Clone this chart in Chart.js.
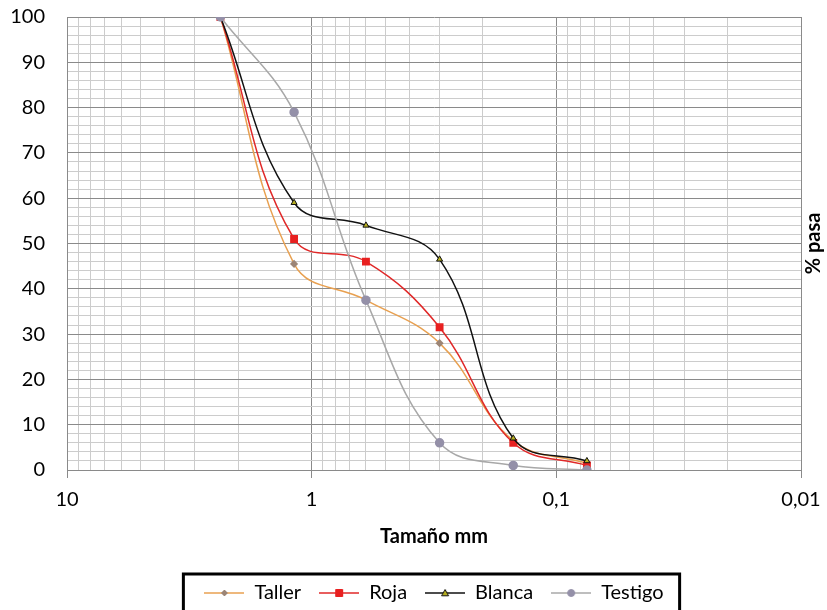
<!DOCTYPE html>
<html>
<head>
<meta charset="utf-8">
<script src="https://cdn.jsdelivr.net/npm/chart.js@4"></script>
<style>
body { margin: 0; background: #fff; }
#wrap { width: 827px; height: 610px; }
</style>
</head>
<body>
<div id="wrap"><canvas id="myChart"></canvas></div>
<script>
// sieve sizes (mm) and % passing per sample
var sizes   = [2.36, 1.18, 0.6, 0.3, 0.15, 0.075];
var taller  = [100, 45.5, 37.5, 28, 6.5, 1.5];
var roja    = [100, 51, 46, 31.5, 6, 1];
var blanca  = [100, 59, 54, 46.5, 7, 2];
var testigo = [100, 79, 37.5, 6, 1, 0];

var seriesNames = ["Taller", "Roja", "Blanca", "Testigo"];
var xDecades    = [10, 1, 0.1, 0.01];
var xTickLabels = ["10", "1", "0,1", "0,01"];

var FONT = "Lato, 'Open Sans', sans-serif";

function pts(vals) {
    return sizes.map(function (s, i) { return { x: s, y: vals[i] }; });
}

function isDecade(v) {
    var l = Math.log10(v);
    return Math.abs(l - Math.round(l)) < 1e-9;
}

// little line + marker pictures for the legend
function legendIcon(lineColor, style, fill, stroke, r) {
    var c = document.createElement("canvas");
    c.width = 40; c.height = 14;
    var g = c.getContext("2d");
    g.strokeStyle = lineColor; g.lineWidth = 1.5;
    g.beginPath(); g.moveTo(0, 7); g.lineTo(40, 7); g.stroke();
    g.fillStyle = fill; g.strokeStyle = stroke; g.lineWidth = 1;
    g.beginPath();
    if (style === "rect") { g.rect(20 - r, 7 - r, 2 * r, 2 * r); }
    else if (style === "rectRot") { g.moveTo(20, 7 - r); g.lineTo(20 + r, 7); g.lineTo(20, 7 + r); g.lineTo(20 - r, 7); g.closePath(); }
    else if (style === "triangle") { g.moveTo(20, 7 - r); g.lineTo(20 + r, 7 + r * 0.8); g.lineTo(20 - r, 7 + r * 0.8); g.closePath(); }
    else { g.arc(20, 7, r, 0, Math.PI * 2); }
    g.fill(); g.stroke();
    return c;
}

var icons = [
    legendIcon("#e8a050", "rectRot", "#9c8576", "#9c8576", 3),
    legendIcon("#e02828", "rect", "#e82020", "#e82020", 3.5),
    legendIcon("#111111", "triangle", "#b8b020", "#111111", 3.5),
    legendIcon("#a8a8a8", "circle", "#9490a8", "#9490a8", 3.5)
];

var legendBorder = {
    id: "legendBorder",
    afterDraw: function (chart) {
        var hb = chart.legend.legendHitBoxes;
        if (!hb || !hb.length) return;
        var left = Math.min.apply(null, hb.map(function (h) { return h.left; })) - 21;
        var right = Math.max.apply(null, hb.map(function (h) { return h.left + h.width; })) + 16;
        var cy = hb[0].top + hb[0].height / 2;
        var g = chart.ctx;
        g.save();
        g.strokeStyle = "#000"; g.lineWidth = 3;
        g.strokeRect(left, cy - 19, right - left, 60);
        // right-hand axis title, reading upward
        g.translate(814, (chart.chartArea.top + chart.chartArea.bottom) / 2);
        g.rotate(-Math.PI / 2);
        g.fillStyle = "#000";
        g.font = "bold 20px " + FONT;
        g.textAlign = "center"; g.textBaseline = "middle";
        g.fillText("% pasa", 0, 0);
        g.restore();
    }
};

var ctx = document.getElementById("myChart").getContext("2d");
var myChart = new Chart(ctx, {
    type: "line",
    data: {
        datasets: [
            {
                label: seriesNames[0], data: pts(taller), order: 3,
                borderColor: "#e8a050", borderWidth: 1.5,
                pointStyle: "rectRot", pointRadius: 3,
                pointBackgroundColor: "#9c8576", pointBorderColor: "#9c8576"
            },
            {
                label: seriesNames[1], data: pts(roja), order: 2,
                borderColor: "#e02828", borderWidth: 1.5,
                pointStyle: "rect", pointRadius: 4.5,
                pointBackgroundColor: "#e82020", pointBorderColor: "#e82020"
            },
            {
                label: seriesNames[2], data: pts(blanca), order: 1,
                borderColor: "#111111", borderWidth: 1.5,
                pointStyle: "triangle", pointRadius: 3.5,
                pointBackgroundColor: "#b8b020", pointBorderColor: "#111111", pointBorderWidth: 1
            },
            {
                label: seriesNames[3], data: pts(testigo), order: 0,
                borderColor: "#a8a8a8", borderWidth: 1.5,
                pointStyle: "circle", pointRadius: 4,
                pointBackgroundColor: "#9490a8", pointBorderColor: "#9490a8"
            }
        ]
    },
    options: {
        responsive: true,
        maintainAspectRatio: false,
        animation: false,
        tension: 0.4,
        layout: { padding: { top: 17, left: 12, right: 26, bottom: -3 } },
        scales: {
            x: {
                type: "logarithmic",
                reverse: true,
                min: 0.01,
                max: 10,
                afterBuildTicks: function (scale) {
                    var t = [];
                    [0.01, 0.1, 1].forEach(function (d) {
                        for (var k = 1; k < 10; k++) t.push({ value: +(k * d).toPrecision(6) });
                    });
                    t.push({ value: 10 });
                    scale.ticks = t;
                },
                ticks: {
                    autoSkip: false,
                    maxRotation: 0,
                    padding: 10,
                    color: "#000",
                    font: { family: FONT, size: 20 },
                    callback: function (v) {
                        var i = xDecades.findIndex(function (d) { return Math.abs(d - v) < d * 1e-6; });
                        return i >= 0 ? xTickLabels[i] : "";
                    }
                },
                grid: {
                    color: function (c) { return c.tick && isDecade(c.tick.value) ? "#8a8a8a" : "#cccccc"; },
                    tickColor: function (c) { return c.tick && isDecade(c.tick.value) ? "#8a8a8a" : "rgba(0,0,0,0)"; },
                    tickLength: 8,
                    lineWidth: 1
                },
                border: { color: "#8a8a8a" },
                title: {
                    display: true,
                    text: "Tamaño mm",
                    color: "#000",
                    font: { family: FONT, size: 20, weight: "bold" },
                    padding: { top: 3, bottom: 16 }
                }
            },
            y: {
                min: 0,
                max: 100,
                afterFit: function (scale) {
                    scale.width = 55;
                    scale.paddingTop = 12;
                    scale.paddingBottom = 12;
                },
                ticks: {
                    stepSize: 2,
                    autoSkip: false,
                    padding: 22,
                    color: "#000",
                    font: { family: FONT, size: 20 },
                    callback: function (v) { return v % 10 === 0 ? v : ""; }
                },
                grid: {
                    drawTicks: false,
                    color: function (c) { return c.tick && c.tick.value % 10 === 0 ? "#8a8a8a" : "#cccccc"; }
                },
                border: { color: "#8a8a8a" }
            }
        },
        plugins: {
            tooltip: { enabled: false },
            legend: {
                position: "bottom",
                fullSize: false,
                labels: {
                    usePointStyle: true,
                    pointStyleWidth: 40,
                    padding: 18,
                    color: "#000",
                    font: { family: FONT, size: 20 },
                    sort: function (a, b) { return a.datasetIndex - b.datasetIndex; },
                    generateLabels: function (chart) {
                        var items = Chart.defaults.plugins.legend.labels.generateLabels(chart);
                        items.forEach(function (it) { it.pointStyle = icons[it.datasetIndex]; });
                        return items;
                    }
                }
            }
        }
    },
    plugins: [legendBorder]
});
</script>
</body>
</html>
